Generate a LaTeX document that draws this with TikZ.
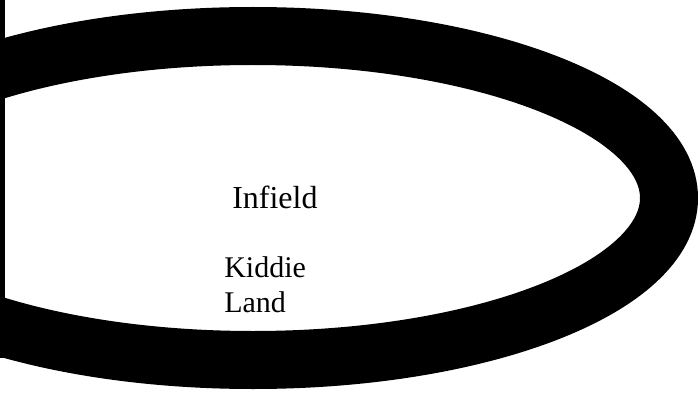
\documentclass[tikz,border=0pt]{standalone}
\usepackage{fontspec}
\setmainfont{Liberation Serif}

\begin{document}
\begin{tikzpicture}[x=1pt,y=-1pt,line width=.5pt,
  lbl/.style={inner sep=0pt,text=black}]
\path[use as bounding box] (0,0) rectangle (698,393);
\clip (0,0) rectangle (698,393);
% track
\draw[line width=58] (253,198) ellipse [x radius=416, y radius=162];
\fill (0,0) rectangle (5,358);
% labels
\node[lbl,anchor=base west,font=\fontsize{32}{37}\selectfont] (infield) at (232,208) {Infield};
\node[lbl,anchor=north west,align=left,font=\fontsize{30}{35}\selectfont] (kiddie) at (224,256) {Kiddie\\Land};
\end{tikzpicture}
\end{document}
